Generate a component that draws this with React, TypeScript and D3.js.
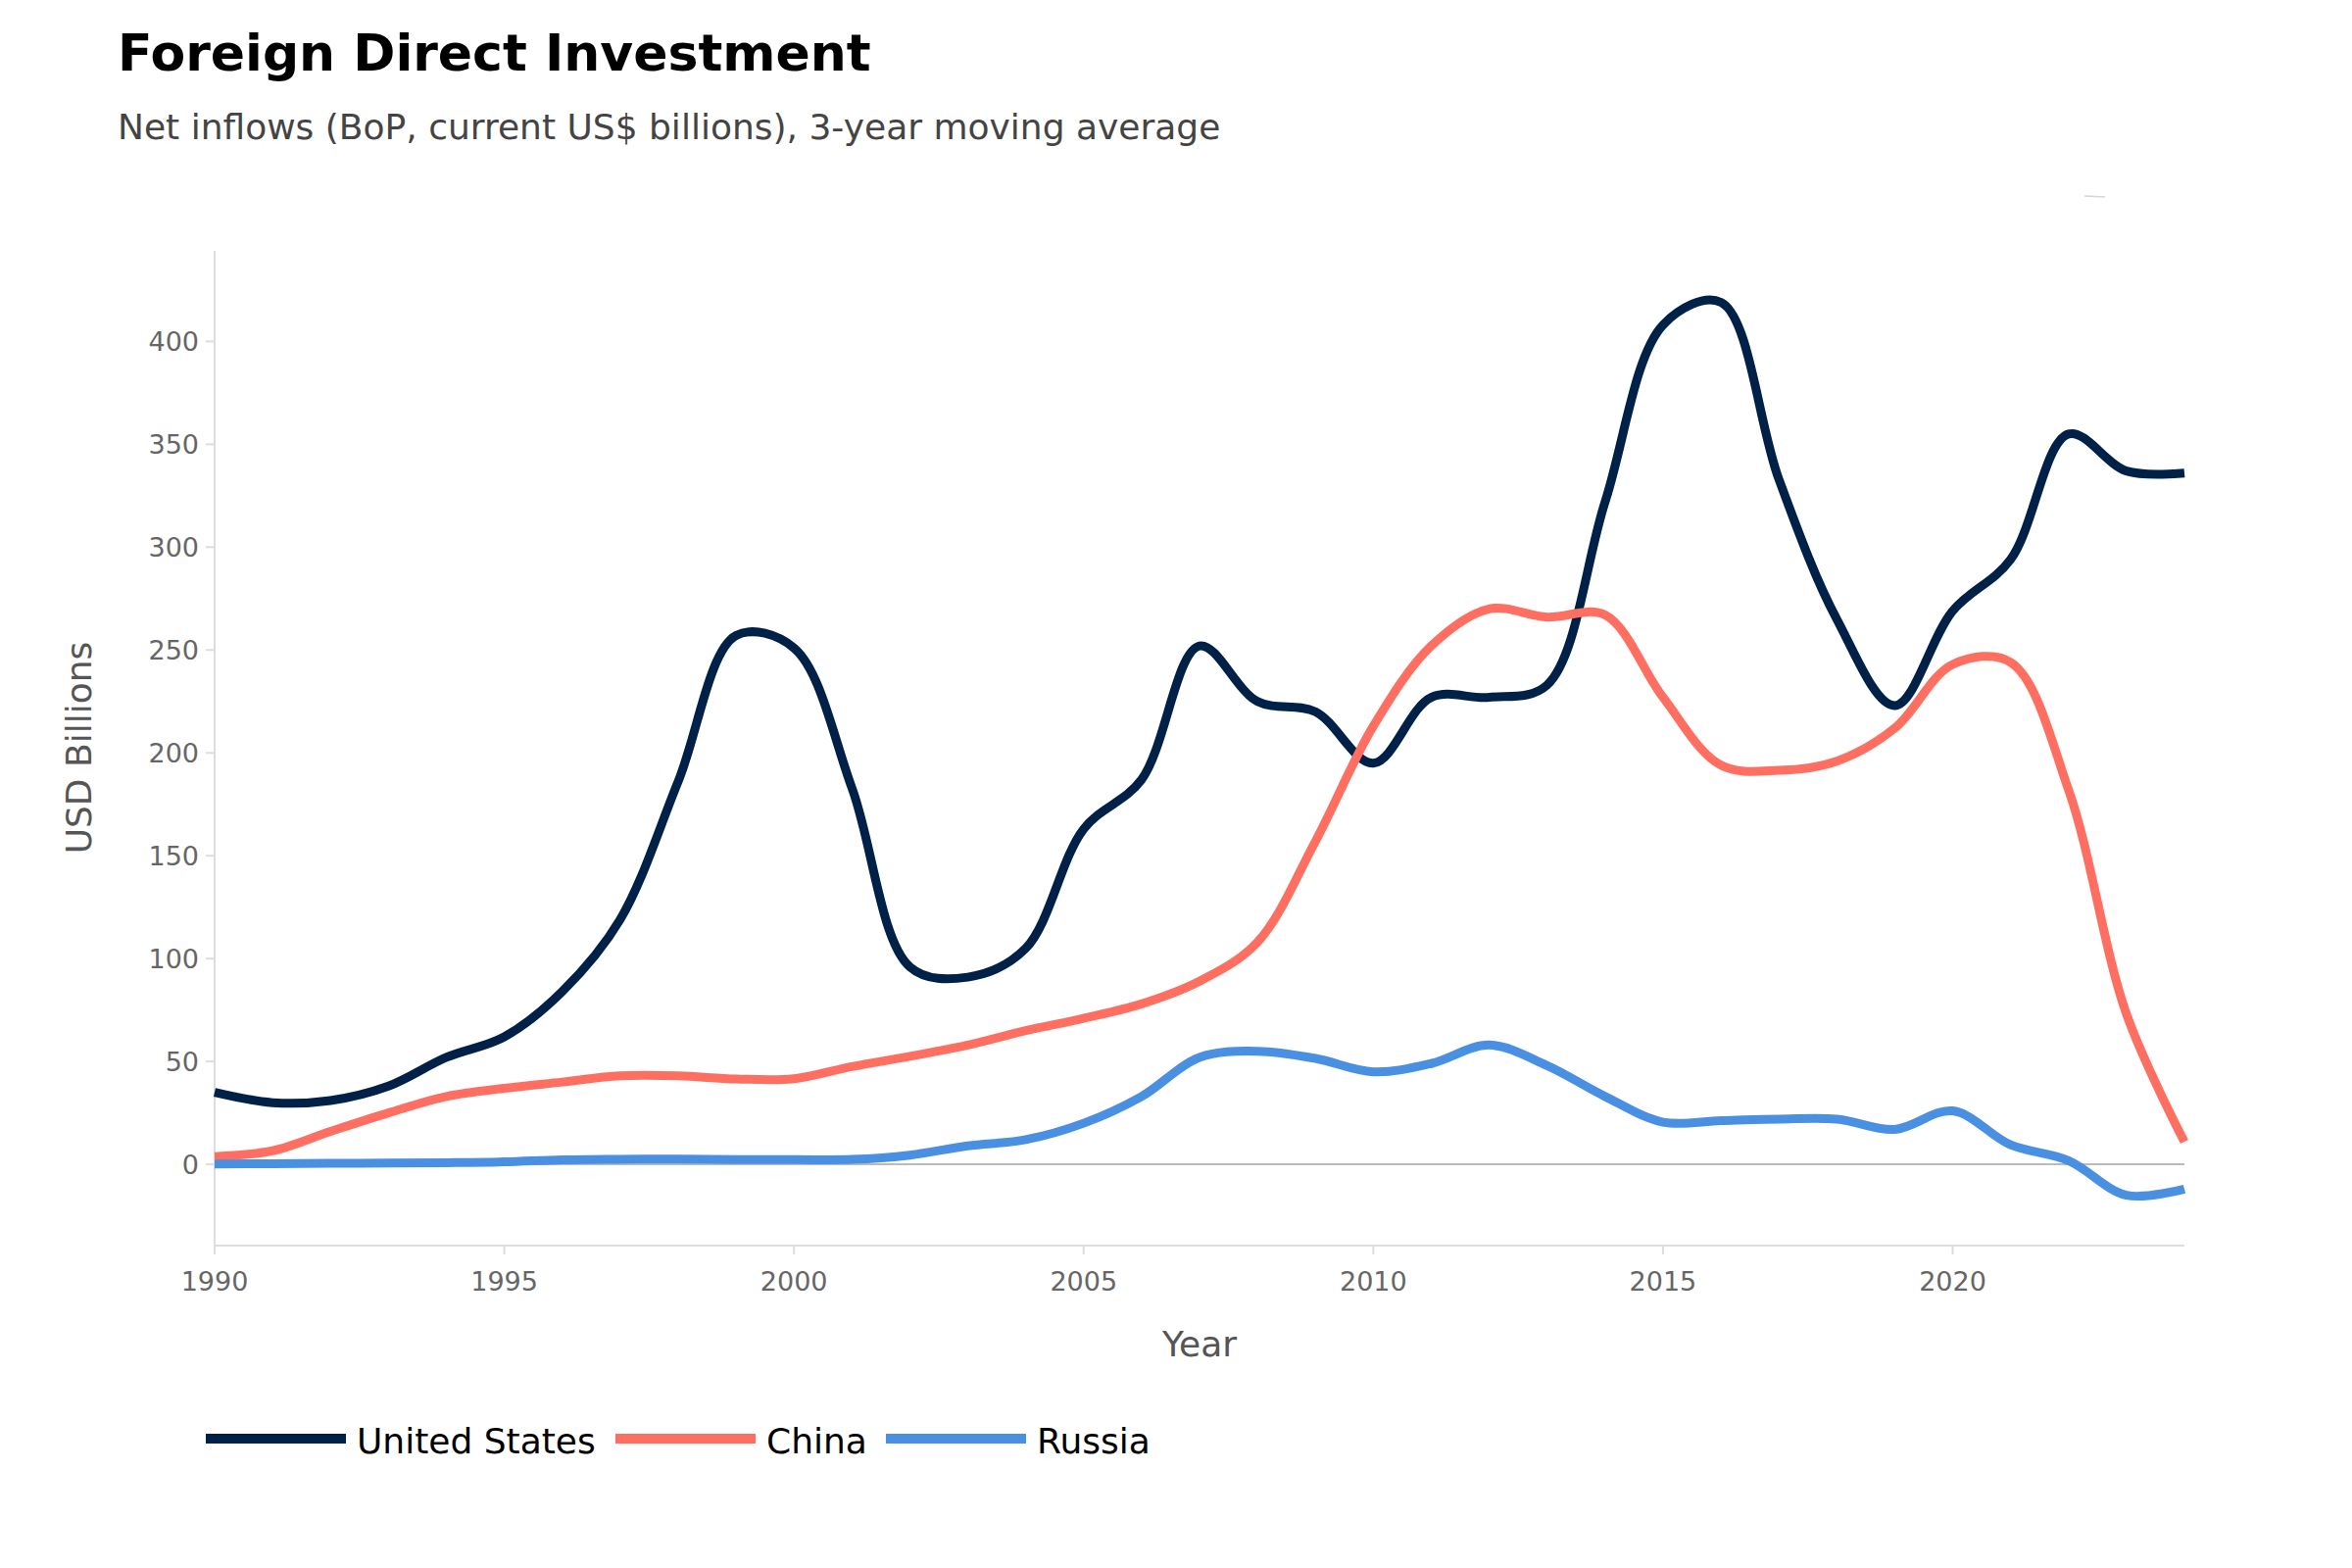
import React from "react";
import * as d3 from "d3";

const years: number[] = d3.range(1990, 2025);

const unitedStates: number[] = [
  35, 30, 31, 38, 52, 62, 84, 119, 186, 257,
  251, 183, 96, 91, 105, 163, 187, 252, 225, 220,
  195, 227, 227, 233, 322, 408, 419, 333, 265, 223,
  269, 294, 355, 337, 336,
];

const china: number[] = [
  3.8, 6.6, 16, 25, 33, 37, 40, 43, 43, 41.5,
  41.6, 47.5, 52.5, 58, 65, 71, 78, 89, 108, 157,
  213, 252, 270, 266, 267, 227, 194, 191.5, 196, 212,
  243, 244, 182, 73, 11,
];

const russia: number[] = [
  0.2, 0.3, 0.5, 0.6, 0.8, 1.2, 2.2, 2.5, 2.6, 2.3,
  2.3, 2.4, 4.5, 9, 12, 20, 33, 52, 55, 51.5,
  45, 49, 58, 48, 33, 20.5, 21.3, 22, 22, 17,
  26, 9.5, 1.8, -15, -12,
];

const seriesNames: string[] = ["United States", "China", "Russia"];
const seriesColors: string[] = ["#002147", "#FF6F61", "#4A90E2"];
const seriesValues: number[][] = [unitedStates, china, russia];

const xTicks: number[] = [1990, 1995, 2000, 2005, 2010, 2015, 2020];
const yTicks: number[] = [0, 50, 100, 150, 200, 250, 300, 350, 400];

const W = 2400;
const H = 1600;
const M = { left: 219, right: 2229, top: 256, bottom: 1270 };
const FONT = "'DejaVu Sans', sans-serif";

export default function App() {
  const x = d3.scaleLinear().domain([1990, 2024]).range([M.left, M.right]);
  const y = d3.scaleLinear().domain([-39, 444]).range([M.bottom, M.top]);

  const line = d3
    .line<[number, number]>()
    .x((d) => x(d[0]))
    .y((d) => y(d[1]))
    .curve(d3.curveCatmullRom.alpha(0.5));

  const legendX = [210, 628, 904];

  return (
    <svg
      width={W}
      height={H}
      viewBox={`0 0 ${W} ${H}`}
      style={{ position: "absolute", left: 0, top: 0, display: "block", background: "#fff" }}
      fontFamily={FONT}
    >
      <rect x={0} y={0} width={W} height={H} fill="#fff" />
      <text x={120} y={72} fontSize={52} fontWeight="bold" fill="#000">
        Foreign Direct Investment
      </text>
      <text x={120} y={142} fontSize={36} fill="#444">
        Net inflows (BoP, current US$ billions), 3-year moving average
      </text>

      {/* axes */}
      <line x1={M.left} x2={M.left} y1={M.top} y2={M.bottom + 1} stroke="#ddd" strokeWidth={2} />
      <line x1={M.left} x2={M.right} y1={M.bottom + 1} y2={M.bottom + 1} stroke="#ddd" strokeWidth={2} />

      {yTicks.map((t) => (
        <g key={"y" + t}>
          <line x1={M.left - 9} x2={M.left} y1={y(t)} y2={y(t)} stroke="#ddd" strokeWidth={2} />
          <text x={M.left - 16} y={y(t)} dy="0.36em" textAnchor="end" fontSize={27} fill="#666">
            {t}
          </text>
        </g>
      ))}

      {xTicks.map((t) => (
        <g key={"x" + t}>
          <line x1={x(t)} x2={x(t)} y1={M.bottom + 1} y2={M.bottom + 10} stroke="#ddd" strokeWidth={2} />
          <text x={x(t)} y={1317} textAnchor="middle" fontSize={27} fill="#666">
            {t}
          </text>
        </g>
      ))}

      <text x={(M.left + M.right) / 2} y={1384} textAnchor="middle" fontSize={36} fill="#555">
        Year
      </text>
      <text
        transform={`translate(93, ${(M.top + M.bottom) / 2}) rotate(-90)`}
        textAnchor="middle"
        fontSize={36}
        fill="#555"
      >
        USD Billions
      </text>

      {/* zero line */}
      <line x1={M.left} x2={M.right} y1={y(0)} y2={y(0)} stroke="#bbb" strokeWidth={2} />

      {/* series */}
      {seriesValues.map((vals, i) => (
        <path
          key={seriesNames[i]}
          d={line(years.map((yr, j) => [yr, vals[j]] as [number, number])) || ""}
          fill="none"
          stroke={seriesColors[i]}
          strokeWidth={9}
          strokeLinejoin="round"
          strokeLinecap="butt"
        />
      ))}

      {/* faint artifact */}
      <line x1={2127} x2={2148} y1={200} y2={201} stroke="#bbb" strokeWidth={1.5} opacity={0.6} />

      {/* legend */}
      {seriesNames.map((name, i) => (
        <g key={"lg" + name}>
          <line
            x1={legendX[i]}
            x2={legendX[i] + 143}
            y1={1468}
            y2={1468}
            stroke={seriesColors[i]}
            strokeWidth={10}
          />
          <text x={legendX[i] + 154} y={1483} fontSize={36} fill="#000">
            {name}
          </text>
        </g>
      ))}
    </svg>
  );
}
